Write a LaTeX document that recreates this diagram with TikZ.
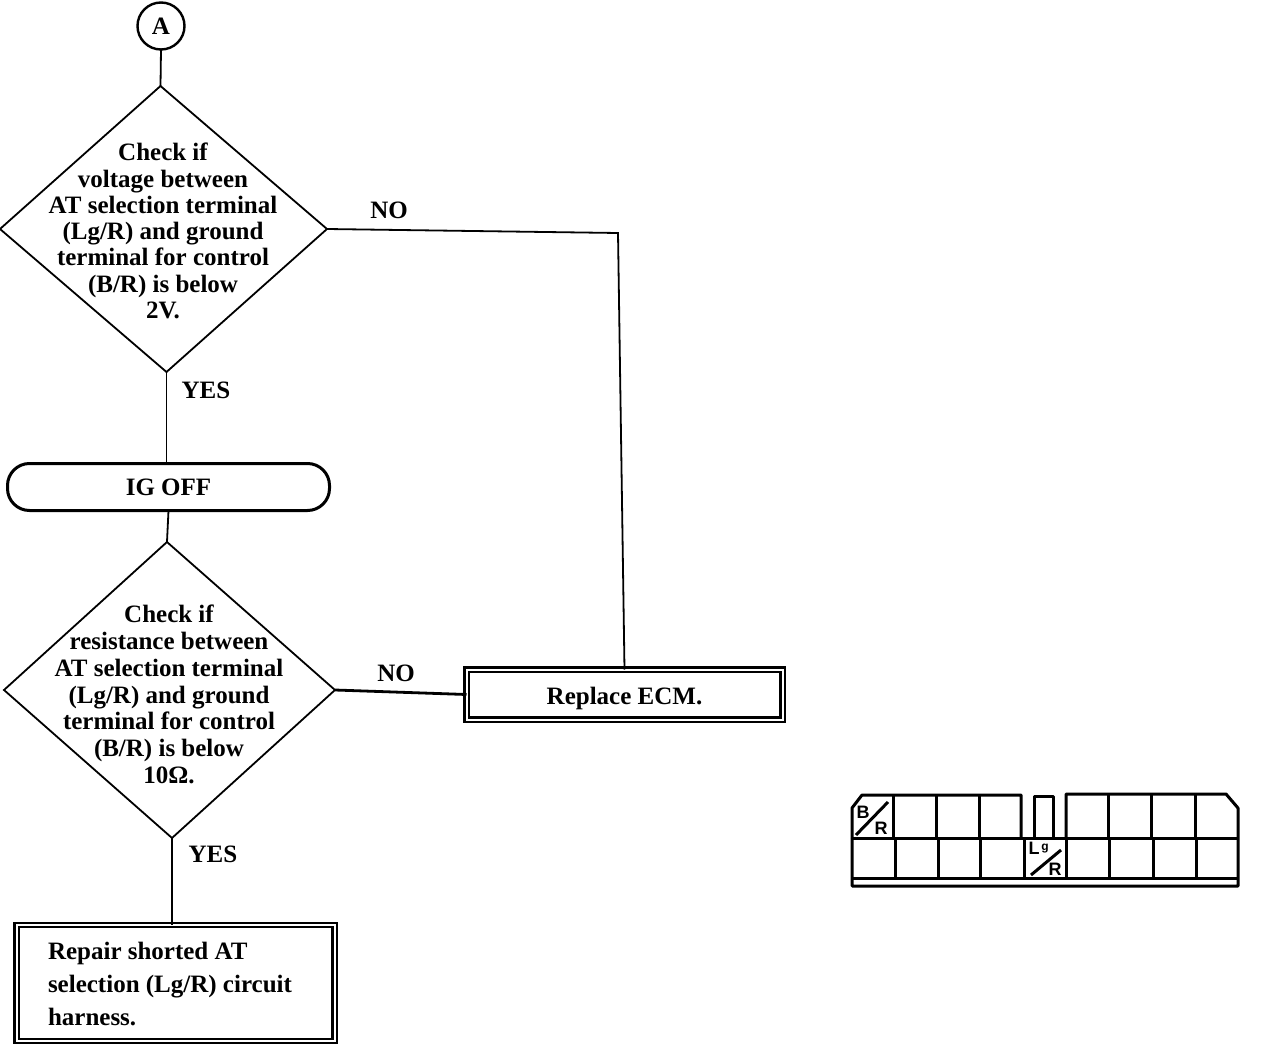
\documentclass[tikz,border=0pt]{standalone}
\usepackage{fontspec}
\setmainfont{Liberation Serif Bold}
\newfontfamily\pinfont{Liberation Sans Bold}
\usetikzlibrary{shapes.geometric}
\tikzset{
  x=1pt,y=-1pt,
  every node/.style={inner sep=0pt,outer sep=0pt},
  flowtext/.style={font=\fontsize{25}{26.3}\selectfont,align=center},
  lbl/.style={font=\fontsize{25}{26}\selectfont},
  conn/.style={draw,line width=1.8pt},
  decision/.style={draw,diamond,line width=1.8pt,transform shape,inner sep=0pt,outer sep=0pt},
  startcircle/.style={draw,circle,line width=2.4pt,minimum size=47pt,font=\fontsize{25}{26}\selectfont},
  terminator/.style={draw,rectangle,rounded corners=22pt,line width=3pt,minimum width=322pt,minimum height=47pt,font=\fontsize{25}{26}\selectfont},
  endbox/.style={draw,rectangle,line width=2.4pt,double,double distance=2pt},
  pinlbl/.style={font=\pinfont\fontsize{18}{18}\selectfont},
  pinline/.style={line width=3pt,line join=round},
}
\begin{document}
\begin{tikzpicture}
\useasboundingbox (0,0) rectangle (1264,1046);
\fill[white] (0,0) rectangle (1264,1046);
% flow
\node[startcircle] (a) at (161,26) {A};
\node[decision,xslant=-0.021,minimum width=327pt,minimum height=286pt] (d1) at (163.5,229) {};
\node[flowtext] (d1t) at (163,231) {Check if\\voltage between\\AT selection terminal\\(Lg/R) and ground\\terminal for control\\(B/R) is below\\2V.};
\node[terminator] (ig) at (168.5,487) {\raisebox{-8.5pt}[0pt][0pt]{IG OFF}};
\node[decision,xslant=-0.017,minimum width=331pt,minimum height=296pt] (d2) at (169.5,690) {};
\node[flowtext,font=\fontsize{25}{26.85}\selectfont] (d2t) at (169,694.5) {Check if\\resistance between\\AT selection terminal\\(Lg/R) and ground\\terminal for control\\(B/R) is below\\10Ω.};
\node[endbox,minimum width=316pt,minimum height=50pt,font=\fontsize{25}{26}\selectfont] (r1) at (624.5,694.5) {\raisebox{-9.5pt}[0pt][0pt]{Replace ECM.}};
\node[endbox,minimum width=318pt,minimum height=116pt] (r2) at (175.5,983) {};
\node[anchor=west,align=left,font=\fontsize{25}{32.6}\selectfont] (r2t) at (48,984) {Repair shorted AT\\selection (Lg/R) circuit\\harness.};
\coordinate (bend) at (618,233);
% connectors
\draw[conn] (a.south) -- (d1.north);
\draw[conn] (d1.south) -- (d1.south |- ig.north);
\draw[conn] (ig.south) -- (d2.north);
\draw[conn] (d2.south) -- (d2.south |- r2.north);
\draw[conn,line width=2.8pt] (d2.east) -- (r1.west);
\draw[conn] (d1.east) -- (bend) -- (r1.north);
% labels
\node[lbl] (no1) at (389,210) {NO};
\node[lbl] (yes1) at (206,390) {YES};
\node[lbl] (no2) at (396,673) {NO};
\node[lbl] (yes2) at (213,854) {YES};
% connector face view
\draw[pinline] (852,838) -- (852,808) -- (862,795) -- (1021,795) -- (1021,838);
\draw[pinline] (1034,838) -- (1034,796) -- (1053,796) -- (1053,838);
\draw[pinline] (1066,838) -- (1066,794) -- (1226,794) -- (1238,808) -- (1238,886) -- (852,886) -- (852,838);
\draw[pinline] (852,838) -- (1238,838);
\draw[pinline] (852,878) -- (1238,878);
\foreach \px in {893,936,979,1108,1151,1195} \draw[pinline] (\px,795) -- (\px,838);
\foreach \px in {895,938,980,1024,1066,1109,1153,1196} \draw[pinline] (\px,838) -- (\px,878);
\draw[pinline] (856,835) -- (888,802);
\draw[pinline] (1031,875) -- (1061,850);
\node[pinlbl] (pb) at (863,812) {B};
\node[pinlbl] (pr1) at (881,828) {R};
\node[pinlbl] (pl) at (1034,848) {L};
\node[pinlbl,font=\pinfont\fontsize{12}{12}\selectfont] (pg) at (1045,849) {g};
\node[pinlbl] (pr2) at (1055,869) {R};
\end{tikzpicture}
\end{document}
